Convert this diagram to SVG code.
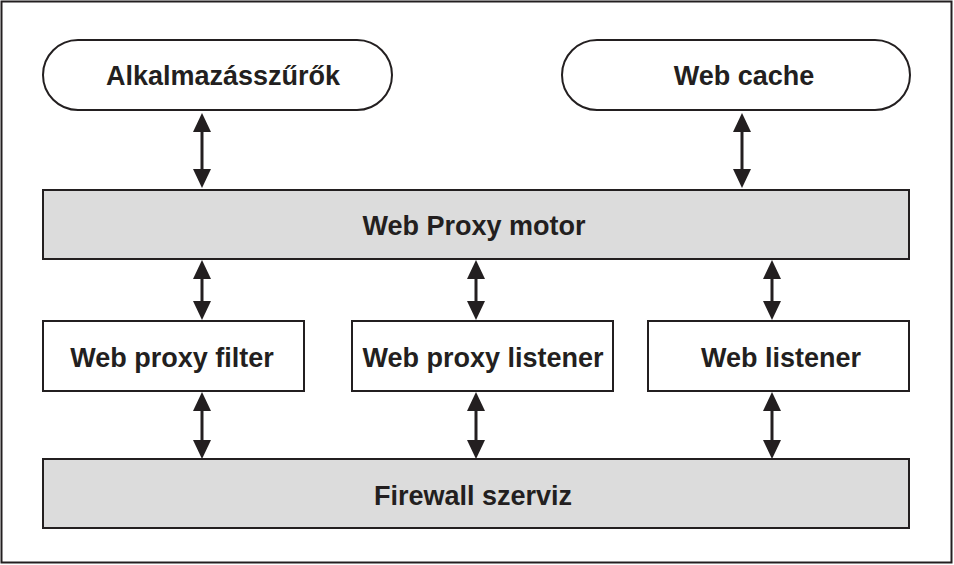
<svg xmlns="http://www.w3.org/2000/svg" width="954" height="565" viewBox="0 0 954 565">
<style>
.box{fill:#fff;stroke:#231f20;stroke-width:2}
.bar{fill:#dcdcdc;stroke:#231f20;stroke-width:2}
.t{font-family:"Liberation Sans",Arial,sans-serif;font-weight:bold;font-size:27px;fill:#231f20;text-anchor:middle}
.c{stroke:#231f20;stroke-width:3;fill:none;marker-start:url(#ah);marker-end:url(#ah)}
</style>
<defs>
<marker id="ah" markerUnits="userSpaceOnUse" markerWidth="19" markerHeight="18" refX="3" refY="9" orient="auto-start-reverse" viewBox="0 0 19 18">
<path d="M0,0 L19,9 L0,18 z" fill="#231f20"/>
</marker>
</defs>
<rect x="1.5" y="1.5" width="950" height="561" fill="#fff" stroke="#231f20" stroke-width="2"/>
<g id="connectors">
<line class="c" x1="202" y1="129" x2="202" y2="172"/>
<line class="c" x1="742" y1="129" x2="742" y2="172"/>
<line class="c" x1="202" y1="276" x2="202" y2="304"/>
<line class="c" x1="476" y1="276" x2="476" y2="304"/>
<line class="c" x1="772" y1="276" x2="772" y2="304"/>
<line class="c" x1="202" y1="408" x2="202" y2="443"/>
<line class="c" x1="476" y1="408" x2="476" y2="443"/>
<line class="c" x1="772" y1="408" x2="772" y2="443"/>
</g>
<g id="alkalmazasszurok">
<rect class="box" x="43" y="40" width="349" height="70" rx="35"/>
<text class="t" x="223" y="85">Alkalmazásszűrők</text>
</g>
<g id="webcache">
<rect class="box" x="562" y="40" width="348" height="70" rx="35"/>
<text class="t" x="744" y="85">Web cache</text>
</g>
<g id="webproxymotor">
<rect class="bar" x="43" y="190" width="866" height="69"/>
<text class="t" x="474" y="235">Web Proxy motor</text>
</g>
<g id="webproxyfilter">
<rect class="box" x="43" y="321" width="261" height="70"/>
<text class="t" x="172" y="367">Web proxy filter</text>
</g>
<g id="webproxylistener">
<rect class="box" x="352" y="321" width="261" height="70"/>
<text class="t" x="483" y="367">Web proxy listener</text>
</g>
<g id="weblistener">
<rect class="box" x="648" y="321" width="261" height="70"/>
<text class="t" x="781" y="367">Web listener</text>
</g>
<g id="firewall">
<rect class="bar" x="43" y="459" width="866" height="69"/>
<text class="t" x="473" y="505">Firewall szerviz</text>
</g>
</svg>
